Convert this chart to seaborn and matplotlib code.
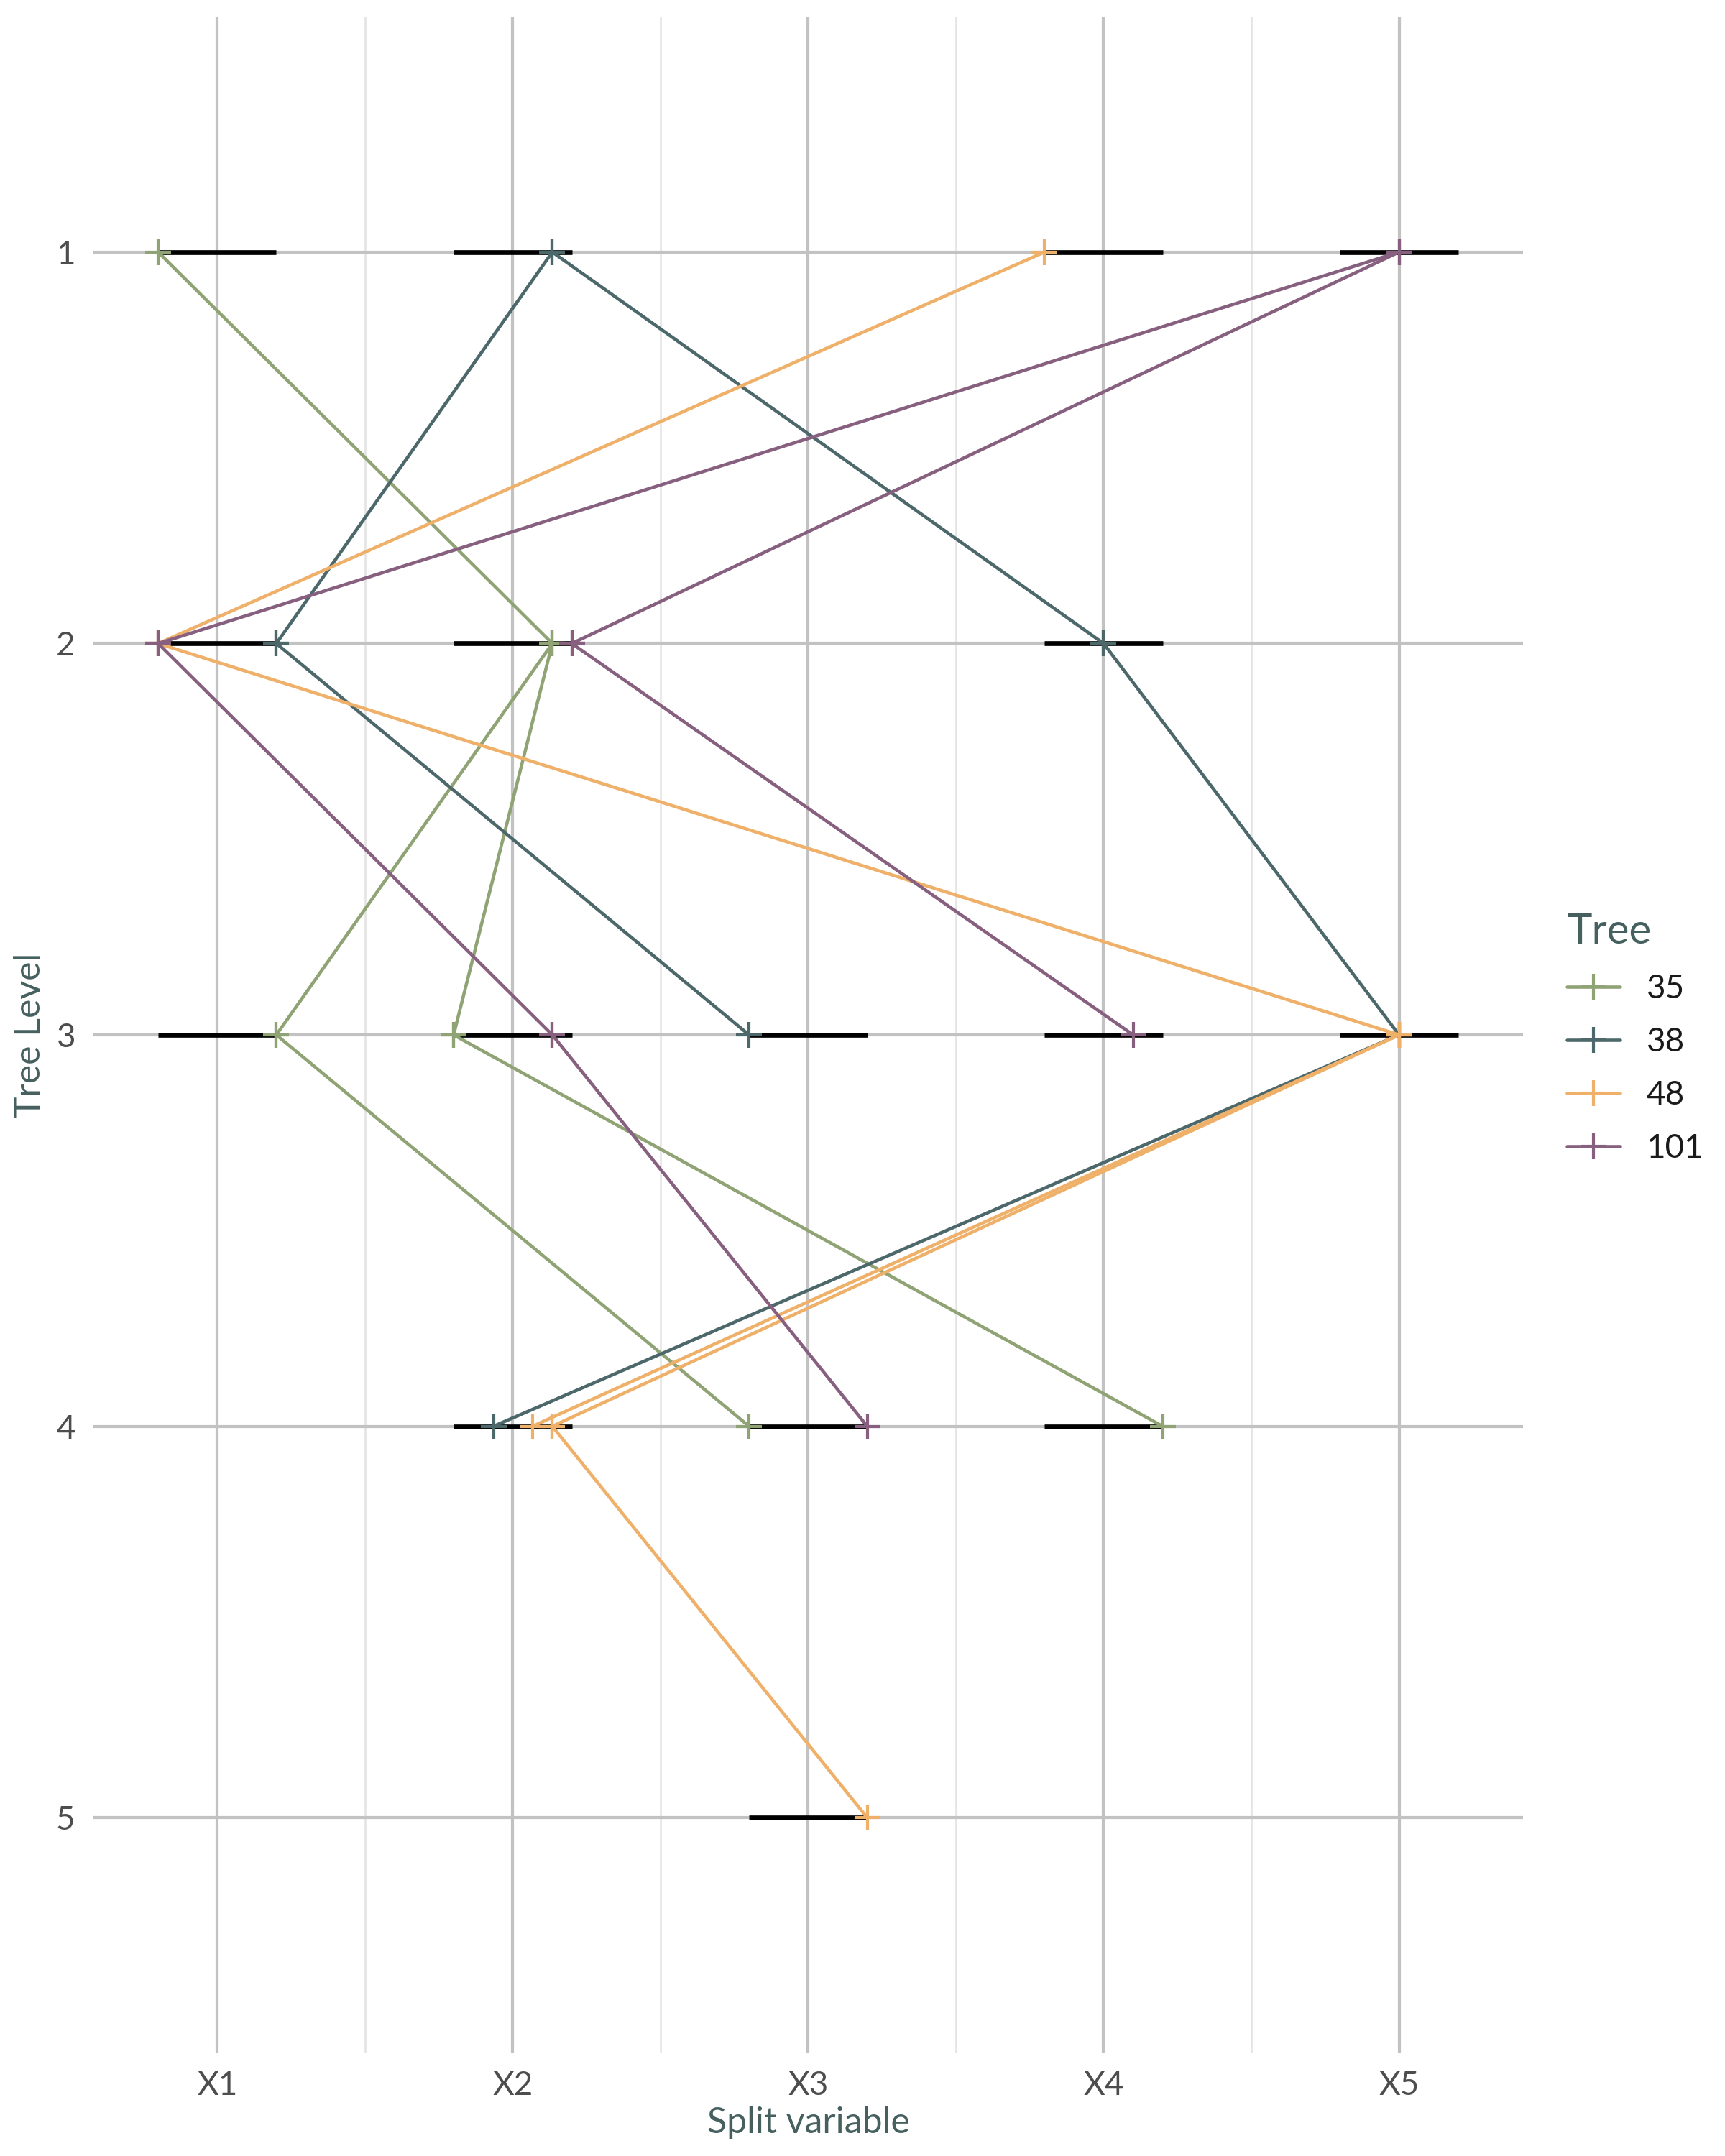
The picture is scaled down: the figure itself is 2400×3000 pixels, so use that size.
import pandas as pd
import matplotlib.pyplot as plt
from matplotlib.lines import Line2D
import seaborn as sns

# split variables and tree levels
split_vars = ["X1", "X2", "X3", "X4", "X5"]
levels = [1, 2, 3, 4, 5]

# trees shown and their colours
trees = ["35", "38", "48", "101"]
tree_colors = ["#8FA374", "#4D686B", "#EFB06A", "#87607F"]

# parent -> child edges (variable, level, position of split inside the variable band)
edge_tree = ["35", "35", "35", "35", "35",
             "38", "38", "38", "38", "38",
             "48", "48", "48", "48", "48",
             "101", "101", "101", "101", "101"]
from_var = ["X1", "X2", "X2", "X1", "X2",
            "X2", "X2", "X1", "X4", "X5",
            "X4", "X1", "X5", "X5", "X2",
            "X5", "X5", "X1", "X2", "X2"]
from_lvl = [1, 2, 2, 3, 3,
            1, 1, 2, 2, 3,
            1, 2, 3, 3, 4,
            1, 1, 2, 3, 2]
from_off = [-0.2, 0.134, 0.134, 0.2, -0.2,
            0.134, 0.134, 0.2, 0.0, 0.0,
            -0.2, -0.2, 0.0, 0.0, 0.134,
            0.0, 0.0, -0.2, 0.134, 0.2]
to_var = ["X2", "X1", "X2", "X3", "X4",
          "X1", "X4", "X3", "X5", "X2",
          "X1", "X5", "X2", "X2", "X3",
          "X1", "X2", "X2", "X3", "X4"]
to_lvl = [2, 3, 3, 4, 4,
          2, 2, 3, 3, 4,
          2, 3, 4, 4, 5,
          2, 2, 3, 4, 3]
to_off = [0.134, 0.2, -0.2, -0.2, 0.2,
          0.2, 0.0, -0.2, 0.0, -0.065,
          -0.2, 0.0, 0.067, 0.134, 0.2,
          -0.2, 0.2, 0.134, 0.2, 0.1]

# variable bands that hold a split at each level
band_var = ["X1", "X2", "X4", "X5",
            "X1", "X2", "X4",
            "X1", "X2", "X3", "X4", "X5",
            "X2", "X3", "X4",
            "X3"]
band_lvl = [1, 1, 1, 1,
            2, 2, 2,
            3, 3, 3, 3, 3,
            4, 4, 4,
            5]
band_half = 0.2

var_pos = {v: i + 1 for i, v in enumerate(split_vars)}

rows = []
for i in range(len(edge_tree)):
    rows.append({"edge": i, "tree": edge_tree[i], "level": from_lvl[i],
                 "x": var_pos[from_var[i]] + from_off[i]})
    rows.append({"edge": i, "tree": edge_tree[i], "level": to_lvl[i],
                 "x": var_pos[to_var[i]] + to_off[i]})
df = pd.DataFrame(rows)

bands = pd.DataFrame({"var": band_var, "level": band_lvl})
bands["pos"] = bands["var"].map(var_pos)

title_col = "#45605F"
sns.set_theme(style="white")
plt.rcParams["font.family"] = ["Lato", "DejaVu Sans"]

fig = plt.figure(figsize=(8, 10), dpi=300)
ax = fig.add_axes([0.054, 0.048, 0.829, 0.944])

# grid
for p in range(1, 6):
    ax.axvline(p, color="#C2C2C2", lw=1.0, zorder=0)
for p in [1.5, 2.5, 3.5, 4.5]:
    ax.axvline(p, color="#E3E3E3", lw=0.6, zorder=0)
for lv in levels:
    ax.axhline(lv, color="#C2C2C2", lw=1.0, zorder=0)

# split variable bands
ax.hlines(bands["level"], bands["pos"] - band_half, bands["pos"] + band_half,
          color="black", lw=1.6, zorder=1)

palette = dict(zip(trees, tree_colors))
n_before = len(ax.lines)
sns.lineplot(data=df, x="x", y="level", hue="tree", hue_order=trees,
             palette=palette, units="edge", estimator=None, sort=False,
             marker="+", markersize=8.5, markeredgewidth=1.0, lw=1.1,
             legend=False, ax=ax, zorder=3)
# '+' markers take the line colour
for ln in ax.lines[n_before:]:
    ln.set_markeredgecolor(ln.get_color())

ax.set_xlim(0.58, 5.42)
ax.set_ylim(5.6, 0.4)
ax.set_xticks(range(1, 6))
ax.set_xticklabels(split_vars)
ax.set_yticks(levels)
ax.set_yticklabels([str(l) for l in levels])
ax.tick_params(axis="both", length=0, labelsize=11, labelcolor="#4D4D4D", pad=6)
for s in ax.spines.values():
    s.set_visible(False)

ax.set_xlabel("Split variable", fontsize=12, color=title_col, labelpad=2)
ax.set_ylabel("Tree Level", fontsize=12, color=title_col, labelpad=3)

handles = [Line2D([], [], color=c, marker="+", markersize=8.5, markeredgewidth=1.0, lw=1.1)
           for c in tree_colors]
leg = ax.legend(handles, trees, title="Tree", loc="center left",
                bbox_to_anchor=(1.01, 0.4985), frameon=False, fontsize=11,
                title_fontsize=14, handlelength=1.6, labelspacing=0.7,
                handletextpad=0.8, alignment="left")
leg.get_title().set_color(title_col)
for t in leg.get_texts():
    t.set_color("#1A1A1A")

fig.savefig("out.png", dpi=300)
